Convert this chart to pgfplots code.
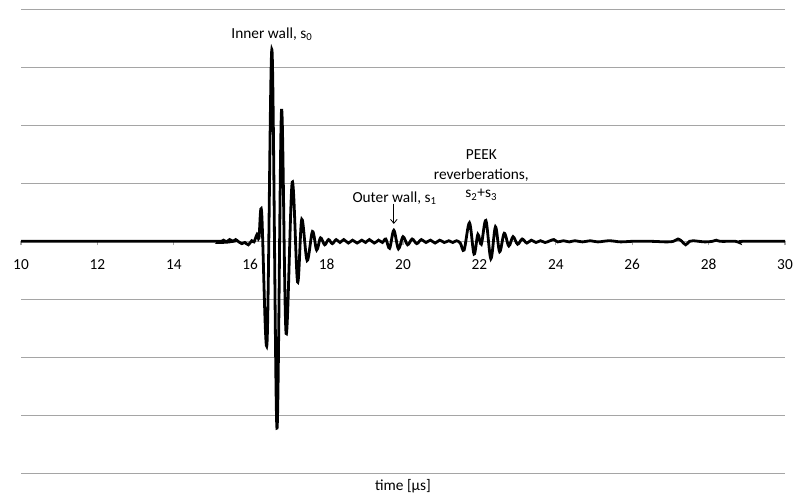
\documentclass[border=0pt]{standalone}
\usepackage{fontspec}
\setmainfont{Carlito}[Numbers=Lining]
\usepackage{pgfplots}
\pgfplotsset{compat=1.18}
\usetikzlibrary{arrows.meta}
\definecolor{gridgray}{RGB}{165,165,165}

\pgfplotstableread{
t v
10.00 0
15.10 0
15.20 -0.02
15.30 0.02
15.38 -0.01
15.46 0.03
15.55 0.00
15.62 0.03
15.70 -0.01
15.78 -0.04
15.86 -0.02
15.95 -0.06
16.04 0.01
16.10 -0.01
16.18 0.12
16.23 0.06
16.30 0.50
16.44 -1.76
16.57 3.30
16.70 -3.22
16.82 2.26
16.94 -1.59
17.10 1.02
17.24 -0.70
17.35 0.38
17.49 -0.33
17.63 0.17
17.74 -0.15
17.84 0.06
17.95 -0.06
18.05 0.03
18.15 -0.04
18.25 0.03
18.35 -0.02
18.45 0.03
18.57 -0.03
18.68 0.02
18.80 -0.03
18.92 0.02
19.02 -0.02
19.12 0.03
19.25 -0.03
19.36 0.02
19.46 -0.02
19.55 0.04
19.65 -0.12
19.76 0.19
19.88 -0.13
20.00 0.08
20.12 -0.06
20.24 0.04
20.36 -0.04
20.48 0.03
20.60 -0.02
20.72 0.02
20.84 -0.03
20.96 0.02
21.08 -0.02
21.20 0.01
21.30 -0.02
21.40 0.01
21.50 -0.03
21.60 -0.15
21.74 0.32
21.86 -0.22
21.96 0.12
22.05 -0.05
22.17 0.36
22.30 -0.30
22.42 0.25
22.53 -0.18
22.65 0.14
22.77 -0.08
22.88 0.08
23.00 -0.05
23.12 0.04
23.24 -0.03
23.36 0.02
23.48 -0.02
23.60 0.01
23.72 -0.02
23.85 0.01
23.95 0.03
24.05 -0.01
24.20 0.01
24.35 -0.01
24.50 0.01
24.70 -0.01
24.90 0.01
25.10 -0.01
25.40 0.01
25.70 -0.01
26.00 0.00
26.50 0.00
26.90 -0.01
27.08 0.00
27.20 0.04
27.30 0.00
27.40 -0.06
27.50 0.00
27.60 0.01
27.90 -0.01
28.10 0.00
28.20 0.02
28.30 0.00
28.70 0.00
28.80 -0.02
28.90 0.00
30.00 0
}\signal

\begin{document}
\begin{tikzpicture}
\useasboundingbox (-15.75pt,-18.5pt) rectangle (579.75pt,355pt);
\begin{axis}[
    name=ax,
    at={(0,0)}, anchor=south west,
    scale only axis,
    width=573pt, height=348pt,
    xmin=10, xmax=30, ymin=-4, ymax=4,
    axis x line=middle,
    axis y line=left,
    hide obscured x ticks=false,
    y axis line style={draw=none},
    x axis line style={draw=gridgray, line width=0.8pt, -},
    ytick={-4,-3,...,4},
    yticklabels={},
    ytick style={draw=none},
    ymajorgrids,
    grid style={gridgray, line width=0.8pt},
    xtick={10,12,...,30},
    xtick style={draw=gridgray, line width=0.8pt},
    tick align=outside,
    major tick length=3pt,
    /pgf/number format/assume math mode=true,
    ticklabel style={font=\fontsize{11.5}{13}\selectfont},
    xticklabel style={anchor=base, yshift=-18.5pt},
    xlabel={time [µs]},
    xlabel style={at={(rel axis cs:0.5,0)}, anchor=center, yshift=-9.5pt, font=\fontsize{11.5}{13}\selectfont},
    clip=false,
]
\addplot[black, line width=2.1pt, smooth, tension=0.55] table[x=t, y=v] {\signal};

\node[font=\fontsize{11.5}{13}\selectfont] at (axis cs:16.57,3.57) {Inner wall, s\textsubscript{0}};
\node[font=\fontsize{11.5}{13}\selectfont] at (axis cs:19.78,0.74) {Outer wall, s\textsubscript{1}};
\draw[black, line width=0.6pt, -{Straight Barb[length=3pt, width=5pt]}] (axis cs:19.76,0.65) -- (axis cs:19.76,0.30);
\node[font=\fontsize{11.5}{13}\selectfont] at (axis cs:22.05,1.50) {PEEK};
\node[font=\fontsize{11.5}{13}\selectfont] at (axis cs:22.05,1.14) {reverberations,};
\node[font=\fontsize{11.5}{13}\selectfont] at (axis cs:22.05,0.80) {s\textsubscript{2}+s\textsubscript{3}};
\end{axis}
\end{tikzpicture}
\end{document}
